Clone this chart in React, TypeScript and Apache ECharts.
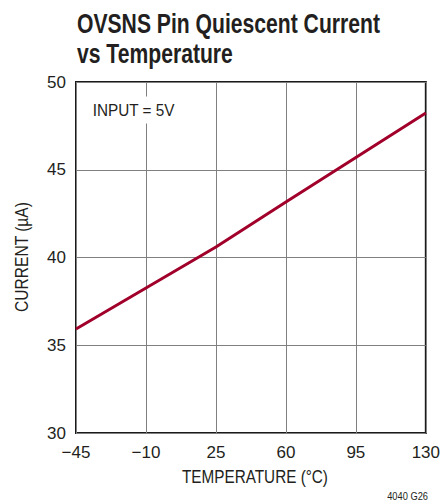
import React, { useEffect, useRef } from "react";
import * as echarts from "echarts";

const temperatures = ["−45", "−10", "25", "60", "95", "130"];
const currentUA = [35.93, 38.26, 40.6, 43.16, 45.7, 48.23];
const yTicks = [30, 35, 40, 45, 50];

const FONT = '"Liberation Sans", Arial, sans-serif';
const INK = "#231f20";

export default function App() {
  const ref = useRef<HTMLDivElement>(null);
  useEffect(() => {
    const chart = echarts.init(ref.current!, null, { renderer: "svg" });
    chart.setOption({
      animation: false,
      backgroundColor: "#ffffff",
      grid: { left: 76, top: 82, width: 352, height: 351, show: true, borderColor: "#1a1a1a", borderWidth: 2 },
      xAxis: {
        type: "category",
        data: temperatures,
        boundaryGap: false,
        axisLine: { show: false },
        axisTick: { show: false },
        axisLabel: { fontFamily: FONT, fontSize: 17, color: INK, margin: 11 },
        splitLine: { show: true, lineStyle: { color: "#808080", width: 1 } },
      },
      yAxis: {
        type: "value",
        min: yTicks[0],
        max: yTicks[yTicks.length - 1],
        interval: 5,
        axisLine: { show: false },
        axisTick: { show: false },
        axisLabel: { fontFamily: FONT, fontSize: 17, color: INK, margin: 10 },
        splitLine: { show: true, lineStyle: { color: "#808080", width: 1 } },
      },
      series: [
        {
          type: "line",
          data: currentUA,
          symbol: "none",
          lineStyle: { color: "#a1002b", width: 3 },
        },
      ],
      graphic: [
        {
          type: "text",
          x: 77,
          y: 23,
          scaleX: 0.755,
          style: { text: "OVSNS Pin Quiescent Current", font: `bold 28px ${FONT}`, fill: INK, textAlign: "left", textVerticalAlign: "middle" },
        },
        {
          type: "text",
          x: 77,
          y: 53,
          scaleX: 0.755,
          style: { text: "vs Temperature", font: `bold 28px ${FONT}`, fill: INK, textAlign: "left", textVerticalAlign: "middle" },
        },
        {
          type: "text",
          x: 90,
          y: 110,
          scaleX: 0.9,
          z: 10,
          style: {
            text: "INPUT = 5V",
            font: `17px ${FONT}`,
            fill: INK,
            textAlign: "left",
            textVerticalAlign: "middle",
            backgroundColor: "#ffffff",
            padding: [5, 3, 5, 3],
          },
        },
        {
          type: "text",
          x: 22,
          y: 257,
          rotation: Math.PI / 2,
          scaleX: 0.865,
          style: { text: "CURRENT (µA)", font: `18px ${FONT}`, fill: INK, textAlign: "center", textVerticalAlign: "middle" },
        },
        {
          type: "text",
          x: 255,
          y: 477,
          scaleX: 0.85,
          style: { text: "TEMPERATURE (°C)", font: `18px ${FONT}`, fill: INK, textAlign: "center", textVerticalAlign: "middle" },
        },
        {
          type: "text",
          x: 428,
          y: 496,
          scaleX: 0.93,
          style: { text: "4040 G26", font: `10px ${FONT}`, fill: INK, textAlign: "right", textVerticalAlign: "middle" },
        },
      ],
    });
    return () => chart.dispose();
  }, []);
  return <div ref={ref} style={{ position: "fixed", left: 0, top: 0, width: 443, height: 502 }} />;
}
